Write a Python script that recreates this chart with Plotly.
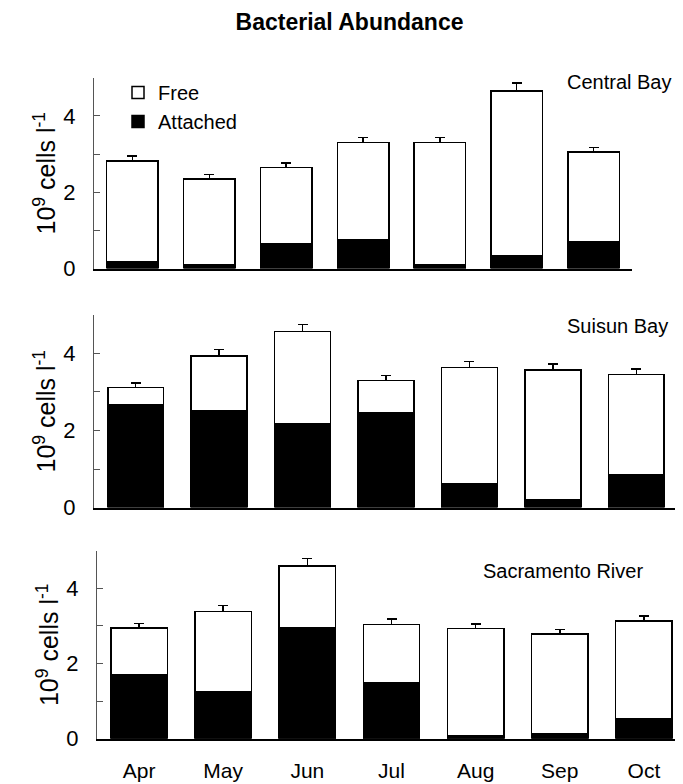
import plotly.graph_objects as go

months = ["Apr", "May", "Jun", "Jul", "Aug", "Sep", "Oct"]

central_total = [2.82, 2.35, 2.65, 3.31, 3.31, 4.66, 3.05]
central_attached = [0.17, 0.11, 0.66, 0.75, 0.10, 0.34, 0.71]
central_err = [0.13, 0.12, 0.12, 0.13, 0.13, 0.20, 0.13]

suisun_total = [3.11, 3.93, 4.57, 3.30, 3.64, 3.57, 3.45]
suisun_attached = [2.67, 2.51, 2.17, 2.47, 0.62, 0.20, 0.85]
suisun_err = [0.12, 0.17, 0.18, 0.13, 0.15, 0.15, 0.14]

sac_total = [2.95, 3.39, 4.60, 3.04, 2.93, 2.78, 3.13]
sac_attached = [1.69, 1.24, 2.95, 1.50, 0.07, 0.12, 0.53]
sac_err = [0.12, 0.16, 0.19, 0.15, 0.12, 0.12, 0.13]

panel_names = ["Central Bay", "Suisun Bay", "Sacramento River"]
y_ticks = [0, 2, 4]

FONT = "Liberation Sans, Arial, Helvetica, sans-serif"
W, H = 683, 784

panels = [
    (central_total, central_attached, central_err),
    (suisun_total, suisun_attached, suisun_err),
    (sac_total, sac_attached, sac_err),
]

fig = go.Figure()
for i, (tot, att, err) in enumerate(panels):
    free = [round(t - a, 3) for t, a in zip(tot, att)]
    ax = "" if i == 0 else str(i + 1)
    fig.add_trace(go.Bar(
        x=months, y=att, name="Attached",
        marker=dict(color="black", line=dict(color="black", width=1.5)),
        xaxis="x" + ax, yaxis="y" + ax, showlegend=(i == 0),
        legendgroup="att",
    ))
    fig.add_trace(go.Bar(
        x=months, y=free, name="Free",
        marker=dict(color="white", line=dict(color="black", width=1.5)),
        error_y=dict(type="data", array=err, symmetric=False,
                     arrayminus=[0] * len(err), color="black",
                     thickness=1.5, width=5),
        xaxis="x" + ax, yaxis="y" + ax, showlegend=(i == 0),
        legendgroup="free",
    ))

# pixel geometry of each panel (left, right, top, bottom)
geo = [(86, 624, 71, 265), (86, 670, 312, 508), (89, 678, 552, 743)]

layout = dict(
    width=W, height=H,
    margin=dict(l=0, r=0, t=0, b=0),
    paper_bgcolor="white", plot_bgcolor="white",
    barmode="stack", bargap=0.33,
    font=dict(family=FONT, color="black"),
    showlegend=True,
    legend=dict(x=110 / W, y=1 - 66 / H, xanchor="left", yanchor="top",
                font=dict(size=20, family=FONT), bgcolor="rgba(0,0,0,0)",
                traceorder="reversed", itemwidth=30, tracegroupgap=3),
    title=dict(text="<b>Bacterial Abundance</b>", x=0.5, xanchor="center",
               y=1 - 14 / H, yanchor="middle",
               font=dict(size=23, family=FONT, color="black")),
)

annotations = []
label_pos = [(611, 75), (609, 323), (555, 573)]
for i, (l, r, t, b) in enumerate(geo):
    ax = "" if i == 0 else str(i + 1)
    layout["xaxis" + ax] = dict(
        domain=[l / W, r / W], anchor="y" + ax, type="category",
        range=[-0.5, 6.5], showline=True, linecolor="black", linewidth=1.5,
        showgrid=False, zeroline=False, ticks="",
        showticklabels=(i == 2), tickfont=dict(size=21, family=FONT),
        ticklabelstandoff=12,
    )
    layout["yaxis" + ax] = dict(
        domain=[1 - b / H, 1 - t / H], anchor="x" + ax,
        range=[0, 5], tickmode="array", tickvals=y_ticks,
        showline=True, linecolor="#555", linewidth=1,
        showgrid=False, zeroline=False,
        ticks="inside", ticklen=6, tickcolor="#555", tickwidth=1,
        minor=dict(dtick=1, tick0=0, ticks="inside", ticklen=6,
                   tickcolor="#555", tickwidth=1, showgrid=False),
        tickfont=dict(size=22, family=FONT), ticklabelstandoff=13,
        title=dict(text="10<sup>9</sup> cells l<sup>-1</sup>",
                   font=dict(size=25, family=FONT), standoff=0),
    )
    lx, ly = label_pos[i]
    annotations.append(dict(text=panel_names[i], xref="paper", yref="paper",
                            x=lx / W, y=1 - ly / H, xanchor="center",
                            yanchor="middle", showarrow=False,
                            font=dict(size=20, family=FONT)))
layout["annotations"] = annotations

fig.update_layout(**layout)
fig.write_html("out.html")
